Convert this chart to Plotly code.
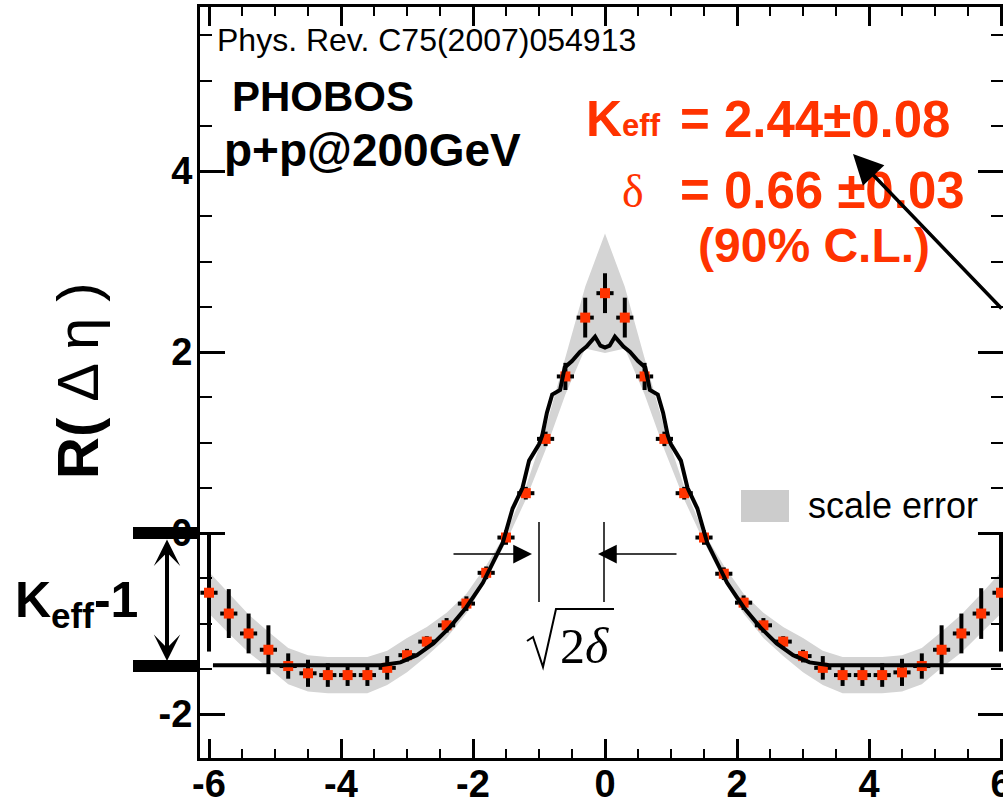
import numpy as np
import plotly.graph_objects as go

# ---------------- data ----------------
x_pts = [-6.0, -5.7, -5.4, -5.1, -4.8, -4.5, -4.2, -3.9, -3.6, -3.3, -3.0, -2.7, -2.4, -2.1, -1.8,
         -1.5, -1.2, -0.9, -0.6, -0.3, 0.0, 0.3, 0.6, 0.9, 1.2, 1.5, 1.8, 2.1, 2.4, 2.7, 3.0,
         3.3, 3.6, 3.9, 4.2, 4.5, 4.8, 5.1, 5.4, 5.7, 6.0]
r_vals = [-0.66, -0.89, -1.11, -1.29, -1.47, -1.55, -1.57, -1.57, -1.57, -1.49, -1.35, -1.20, -1.02, -0.78, -0.44,
          -0.05, 0.44, 1.04, 1.73, 2.38, 2.65, 2.38, 1.73, 1.04, 0.44, -0.05, -0.45, -0.77, -1.02, -1.20, -1.36,
          -1.49, -1.57, -1.57, -1.57, -1.54, -1.47, -1.29, -1.11, -0.89, -0.66]
stat_err = [0.65, 0.27, 0.22, 0.27, 0.14, 0.15, 0.13, 0.12, 0.12, 0.13, 0.07, 0.06, 0.08, 0.08, 0.07,
            0.08, 0.07, 0.08, 0.15, 0.22, 0.22, 0.22, 0.15, 0.08, 0.07, 0.08, 0.07, 0.08, 0.08, 0.06, 0.07,
            0.13, 0.12, 0.12, 0.13, 0.15, 0.14, 0.27, 0.22, 0.28, 0.65]
bin_half = [0.13] * 41

band_lo = [-0.89, -1.11, -1.32, -1.49, -1.67, -1.75, -1.77, -1.77, -1.77, -1.68, -1.54, -1.36, -1.16, -0.89, -0.52,
           -0.10, 0.37, 0.92, 1.53, 2.04, 1.99, 2.04, 1.53, 0.92, 0.37, -0.10, -0.52, -0.89, -1.16, -1.36, -1.54,
           -1.68, -1.77, -1.77, -1.77, -1.75, -1.67, -1.49, -1.32, -1.11, -0.89]
band_hi = [-0.43, -0.67, -0.90, -1.09, -1.27, -1.35, -1.37, -1.37, -1.37, -1.30, -1.16, -1.04, -0.88, -0.67, -0.36,
           0.00, 0.51, 1.16, 1.93, 2.72, 3.31, 2.72, 1.93, 1.16, 0.51, 0.00, -0.36, -0.67, -0.88, -1.04, -1.16,
           -1.30, -1.37, -1.37, -1.37, -1.35, -1.27, -1.09, -0.90, -0.67, -0.43]

fit_x = [-5.94, -3.40, -3.10, -2.85, -2.60, -2.35, -2.10, -1.85, -1.70, -1.55, -1.40, -1.25, -1.15, -1.00, -0.95,
         -0.88, -0.80, -0.68, -0.61, -0.50, -0.38, -0.28, -0.15, -0.07, 0.00,
         0.07, 0.15, 0.28, 0.38, 0.50, 0.61, 0.68, 0.80, 0.88, 0.95, 1.00, 1.15, 1.25, 1.40, 1.55, 1.70,
         1.85, 2.10, 2.35, 2.60, 2.85, 3.10, 3.40, 6.00]
fit_y = [-1.46, -1.46, -1.43, -1.35, -1.22, -1.04, -0.82, -0.55, -0.33, -0.11, 0.27, 0.50, 0.80, 0.98, 1.08,
         1.33, 1.53, 1.58, 1.83, 1.90, 2.00, 2.06, 2.17, 2.07, 2.05,
         2.07, 2.17, 2.06, 2.00, 1.90, 1.83, 1.58, 1.53, 1.33, 1.08, 0.98, 0.80, 0.50, 0.27, -0.11, -0.33,
         -0.55, -0.82, -1.04, -1.22, -1.35, -1.43, -1.46, -1.46]

x_tick_vals = [-6, -4, -2, 0, 2, 4, 6]
x_tick_text = ["-6", "-4", "-2", "0", "2", "4", "6"]
y_tick_vals = [-2, 0, 2, 4]
y_tick_text = ["-2", "0", "2", "4"]

RED = "#FF3300"
BAND = "#D4D4D4"
SANS = "Liberation Sans, Arial, sans-serif"
SERIF = "Liberation Serif, Times New Roman, serif"

# ---------------- geometry (pixels) ----------------
W, H = 1003, 803
L, R, T, B = 200, 1003, 7, 758


def px(xp):
    return (xp - L) / (R - L)


def py(yp):
    return (B - yp) / (B - T)


fig = go.Figure()

# scale error band
fig.add_trace(go.Scatter(
    x=x_pts + x_pts[::-1], y=band_hi + band_lo[::-1],
    fill="toself", fillcolor=BAND, line=dict(width=0), mode="lines",
    hoverinfo="skip", showlegend=False))

# data points
fig.add_trace(go.Scatter(
    x=x_pts, y=r_vals, mode="markers",
    marker=dict(symbol="square", size=10, color=RED, line=dict(width=0)),
    error_y=dict(type="data", array=stat_err, visible=True, color="black", thickness=4, width=0),
    error_x=dict(type="data", array=bin_half, visible=True, color="black", thickness=4, width=0),
    showlegend=False))

# fit curve
fig.add_trace(go.Scatter(
    x=fit_x, y=fit_y, mode="lines", line=dict(color="black", width=4),
    showlegend=False))

axis_common = dict(
    showline=True, linewidth=3, linecolor="black", mirror="allticks",
    ticks="inside", tickwidth=3, tickcolor="black",
    showgrid=False, zeroline=False, automargin=False,
    tickfont=dict(family=SANS, size=38, color="black", weight="bold"),
)

fig.update_xaxes(
    range=[(L - 605) / 66.0, (R - 605) / 66.0],
    tickmode="array", tickvals=x_tick_vals, ticktext=x_tick_text, ticklen=19,
    ticklabelstandoff=-10, ticklabeloverflow="allow",
    minor=dict(tickmode="array", tickvals=list(np.arange(-6, 6.01, 0.5)), ticks="inside",
               ticklen=9, tickwidth=2, tickcolor="black"),
    **axis_common)
fig.update_yaxes(
    range=[(533 - B) / 90.5, (533 - T) / 90.5],
    tickmode="array", tickvals=y_tick_vals, ticktext=y_tick_text, ticklen=25,
    ticklabelstandoff=-3,
    minor=dict(tickmode="array", tickvals=list(np.arange(-2.5, 6.01, 0.5)), ticks="inside",
               ticklen=12, tickwidth=2, tickcolor="black"),
    **axis_common)

ann = []
shapes = []


def text(xp, yp, s, size, color="black", bold=False, family=SANS, xanchor="left", yanchor="middle", angle=0):
    ann.append(dict(x=px(xp), y=py(yp), xref="paper", yref="paper", text=s, showarrow=False,
                    xanchor=xanchor, yanchor=yanchor, textangle=angle,
                    font=dict(family=family, size=size, color=color, weight="bold" if bold else "normal")))


def arrow(tipx, tipy, tailx, taily, width, size, head=2, both=False):
    d = dict(x=px(tipx), y=py(tipy), xref="paper", yref="paper", text="", showarrow=True,
             ax=tailx - tipx, ay=taily - tipy, axref="pixel", ayref="pixel",
             arrowhead=head, arrowsize=size, arrowwidth=width, arrowcolor="black")
    if both:
        d.update(arrowside="end+start", startarrowhead=head, startarrowsize=size)
    ann.append(d)


def rect(x0, y0, x1, y1, color):
    shapes.append(dict(type="rect", xref="paper", yref="paper", x0=px(x0), x1=px(x1),
                       y0=py(y1), y1=py(y0), fillcolor=color, line=dict(width=0), layer="above"))


def seg(x0, y0, x1, y1, width):
    shapes.append(dict(type="line", xref="paper", yref="paper", x0=px(x0), x1=px(x1),
                       y0=py(y0), y1=py(y1), line=dict(color="black", width=width), layer="above"))


# texts
text(215, 40, "Phys. Rev. C75(2007)054913", 32)
text(230, 97, "PHOBOS", 42, bold=True)
text(222, 150, "p+p@200GeV", 46, bold=True)
text(584, 119, "K<span style='font-size:31px'>eff</span>", 50, color=RED, bold=True)
text(678, 119, "= 2.44±0.08", 51, color=RED, bold=True)
text(633, 191, "δ", 46, color=RED, family=SERIF, xanchor="center")
text(678, 190, "= 0.66 ±0.03", 51, color=RED, bold=True)
text(814, 246, "(90% C.L.)", 48, color=RED, bold=True, xanchor="center")
text(806, 505, "scale error", 36)
text(13, 603, "K<sub>eff</sub>-1", 50, bold=True)
text(77, 381, "<b>R(</b> Δ η )", 58, xanchor="center", angle=-90)
text(584, 646, "2<i>δ</i>", 50, family=SERIF, xanchor="center")

# legend box
rect(741, 490, 789, 522, "#CCCCCC")

# K_eff-1 bars and arrow
rect(133, 527, 197, 539, "black")
rect(133, 660, 197, 672, "black")
arrow(167, 661, 167, 538, 4, 1.1, head=3, both=True)

# sqrt(2 delta) marker
seg(539, 522, 539, 602, 1.5)
seg(604, 522, 604, 602, 1.5)
arrow(532, 554, 452, 554, 1.5, 2.5)
arrow(598, 554, 678, 554, 1.5, 2.5)
shapes.append(dict(type="path", xref="paper", yref="paper",
                   path="M {} {} L {} {} L {} {} L {} {} L {} {}".format(
                       px(527), py(641), px(533), py(637), px(543), py(667), px(556), py(609), px(614), py(609)),
                   line=dict(color="black", width=2), layer="above"))

# big arrow to K_eff
arrow(853, 154, 1012, 310, 3.5, 1.7)

fig.update_layout(
    width=W, height=H,
    margin=dict(l=L, r=W - R, t=T, b=H - B, pad=0, autoexpand=False),
    plot_bgcolor="white", paper_bgcolor="white",
    annotations=ann, shapes=shapes, showlegend=False,
)

fig.write_html("out.html", config={"displayModeBar": False},
               post_script="document.body.style.margin='0';document.body.style.overflow='hidden';")
